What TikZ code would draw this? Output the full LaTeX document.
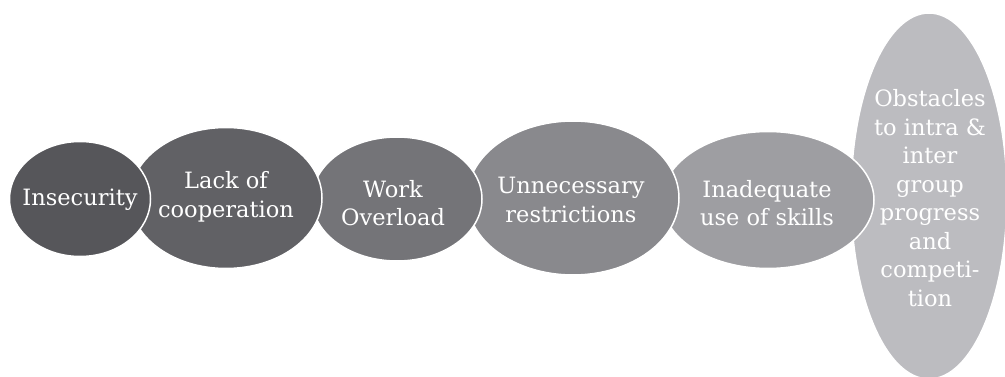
\documentclass[tikz,border=0pt]{standalone}
\usepackage{fontspec}
\setmainfont{DejaVu Serif}
\usetikzlibrary{shapes.geometric}
\begin{document}
\begin{tikzpicture}[x=1pt,y=-1pt,
  bubble/.style={ellipse, draw=white, line width=1.5pt, inner sep=0pt},
  label/.style={text=white, align=center, inner sep=0pt, font=\fontsize{22.5}{28.5}\selectfont},
]
\useasboundingbox (0,0) rectangle (1005,377);
\definecolor{c1}{HTML}{56565A}
\definecolor{c2}{HTML}{616165}
\definecolor{c3}{HTML}{747478}
\definecolor{c4}{HTML}{89898D}
\definecolor{c5}{HTML}{9E9EA2}
\definecolor{c6}{HTML}{BCBCC0}
\node[bubble, fill=c6, minimum width=156pt, minimum height=366pt] (n6) at (929,196) {};
\node[bubble, fill=c5, minimum width=212pt, minimum height=137pt] (n5) at (768,200) {};
\node[bubble, fill=c4, minimum width=212pt, minimum height=154pt] (n4) at (573,198) {};
\node[bubble, fill=c3, minimum width=170pt, minimum height=124pt] (n3) at (397,199) {};
\node[bubble, fill=c2, minimum width=192pt, minimum height=141pt] (n2) at (226,198) {};
\node[bubble, fill=c1, minimum width=141pt, minimum height=115pt] (n1) at (80,199) {};
\node[label] (t6) at (930,198) {Obstacles\\to intra \&\\inter\\group\\progress\\and\\competi-\\tion};
\node[label] (t5) at (767,203) {Inadequate\\use of skills};
\node[label] (t4) at (571,200) {Unnecessary\\restrictions};
\node[label] (t3) at (393,203) {Work\\Overload};
\node[label] (t2) at (226,197) {Lack of\\cooperation};
\node[label] (t1) at (80,200) {Insecurity};
\end{tikzpicture}
\end{document}
